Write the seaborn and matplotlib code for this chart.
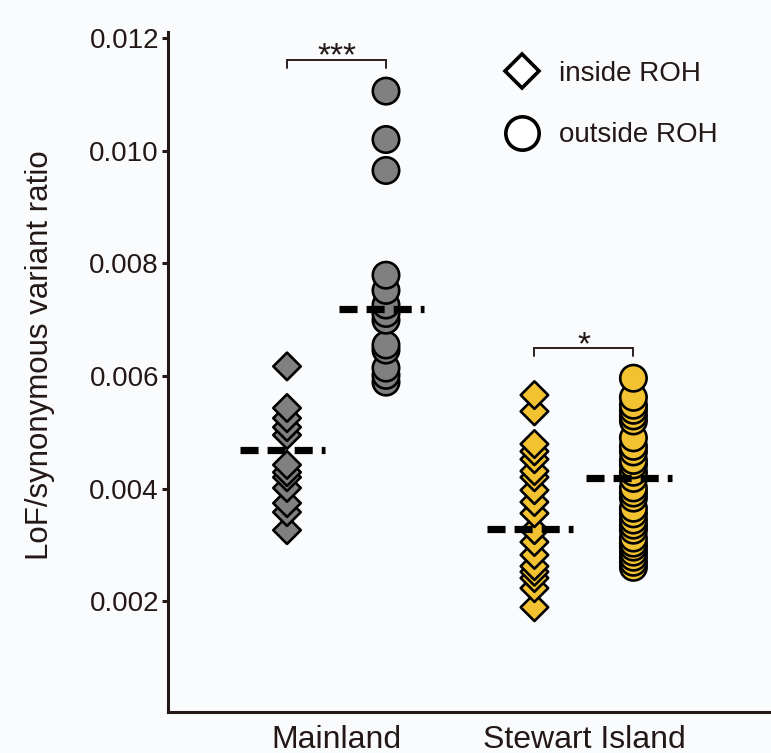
import matplotlib
matplotlib.use("Agg")
import matplotlib.pyplot as plt
import pandas as pd
import seaborn as sns
from matplotlib.lines import Line2D

# ---- data -------------------------------------------------------------
locations = ["Mainland", "Stewart Island"]
roh_levels = ["inside ROH", "outside ROH"]

mainland_inside = [0.00617, 0.00543, 0.00525, 0.00509, 0.00495, 0.00442,
                   0.00429, 0.00420, 0.00401, 0.00374, 0.00358, 0.00326]
mainland_outside = [0.01106, 0.01020, 0.00965, 0.00779, 0.00752, 0.00726,
                    0.00711, 0.00699, 0.00655, 0.00646, 0.00614, 0.00601,
                    0.00589]
stewart_inside = [0.00566, 0.00537, 0.00479, 0.00466, 0.00452, 0.00431,
                  0.00420, 0.00397, 0.00376, 0.00356, 0.00326, 0.00305,
                  0.00282, 0.00262, 0.00252, 0.00241, 0.00223, 0.00189]
stewart_outside = [0.00596, 0.00562, 0.00548, 0.00539, 0.00529, 0.00520,
                   0.00490, 0.00475, 0.00465, 0.00450, 0.00442, 0.00429,
                   0.00418, 0.00401, 0.00392, 0.00383, 0.00365, 0.00355,
                   0.00344, 0.00335, 0.00326, 0.00312, 0.00303, 0.00296,
                   0.00287, 0.00278, 0.00269, 0.00260]

# group centre values shown as dashed bars (inside, outside)
centre_mainland = [0.00468, 0.00719]
centre_stewart = [0.00328, 0.00418]

significance_labels = ["***", "*"]
y_ticks = [0.002, 0.004, 0.006, 0.008, 0.010, 0.012]
y_tick_labels = ["0.002", "0.004", "0.006", "0.008", "0.010", "0.012"]

# ---- styling ----------------------------------------------------------
BG = "#fafbfd"
INK = "#231815"
loc_colors = {"Mainland": "#808080", "Stewart Island": "#f2c230"}
roh_markers = {"inside ROH": "D", "outside ROH": "o"}
roh_sizes = {"inside ROH": 14.0, "outside ROH": 19.0}

sns.set_style("ticks")
plt.rcParams["font.family"] = ["Liberation Sans", "DejaVu Sans"]
plt.rcParams["text.color"] = INK
plt.rcParams["axes.labelcolor"] = INK

rows = []
for loc, series in [("Mainland", [mainland_inside, mainland_outside]),
                    ("Stewart Island", [stewart_inside, stewart_outside])]:
    for roh, vals in zip(roh_levels, series):
        for v in sorted(vals):
            rows.append({"location": loc, "roh": roh, "ratio": v})
df = pd.DataFrame(rows)

fig = plt.figure(figsize=(7.71, 7.53), dpi=100, facecolor=BG)
W, H = 771, 753
ax = fig.add_axes([168 / W, 1 - 712 / H, (771 - 168) / W, (712 - 32) / H])
ax.set_facecolor(BG)

for loc in locations:
    for roh in roh_levels:
        sub = df[(df["location"] == loc) & (df["roh"] == roh)]
        sns.stripplot(
            data=sub, x="location", y="ratio", hue="roh",
            order=locations, hue_order=roh_levels, dodge=True, jitter=False,
            palette={r: loc_colors[loc] for r in roh_levels},
            marker=roh_markers[roh], size=roh_sizes[roh],
            linewidth=1.9, edgecolor="black", legend=False, ax=ax, zorder=3,
        )

# dashed centre bars
offsets = [-0.2, 0.2]
for i, centres in enumerate([centre_mainland, centre_stewart]):
    for off, m in zip(offsets, centres):
        c = i + off
        ax.plot([c - 0.19, c + 0.155], [m, m], color="black", lw=5.2,
                dashes=(2.5, 1.25), solid_capstyle="butt", zorder=5)

# significance brackets
bracket_specs = [(0, 0.01161, 0.01147, 0.01152), (1, 0.00650, 0.00636, 0.00639)]
for (i, top, bot, ytxt), lab in zip(bracket_specs, significance_labels):
    x0, x1 = i - 0.2, i + 0.2
    ax.plot([x0, x0, x1, x1], [bot, top, top, bot], color="#2e201d",
            lw=1.4, zorder=4, solid_joinstyle="miter")
    ax.text(i, ytxt, lab, ha="center", va="baseline", fontsize=24, color=INK)

# axes
ax.set_xlim(-0.681, 1.756)
ax.set_ylim(0.00003, 0.01211)
ax.set_yticks(y_ticks)
ax.set_yticklabels(y_tick_labels)
ax.set_xlabel("")
ax.set_ylabel("LoF/synonymous variant ratio", fontsize=22.5)
ax.yaxis.set_label_coords(-0.187, 0.525)

for s in ["top", "right"]:
    ax.spines[s].set_visible(False)
for s in ["left", "bottom"]:
    ax.spines[s].set_color(INK)
    ax.spines[s].set_linewidth(2.2)
ax.tick_params(axis="y", length=4.5, width=2.2, color=INK, labelsize=20,
               labelcolor=INK, pad=2)
ax.tick_params(axis="x", length=0, labelsize=23, labelcolor=INK, pad=9)

# legend
handles = [
    Line2D([], [], marker="D", markersize=17.3, markerfacecolor="white",
           markeredgecolor="black", markeredgewidth=2.6, linestyle="none"),
    Line2D([], [], marker="o", markersize=24, markerfacecolor="white",
           markeredgecolor="black", markeredgewidth=2.6, linestyle="none"),
]
ax.legend(handles, roh_levels, loc="upper left",
          bbox_to_anchor=(504 / W, 1 - 61 / H), bbox_transform=fig.transFigure,
          frameon=False, fontsize=20, borderpad=0, borderaxespad=0,
          handlelength=1.3, handletextpad=0.68, labelspacing=1.27)

fig.savefig("out.png", dpi=100, facecolor=BG)
